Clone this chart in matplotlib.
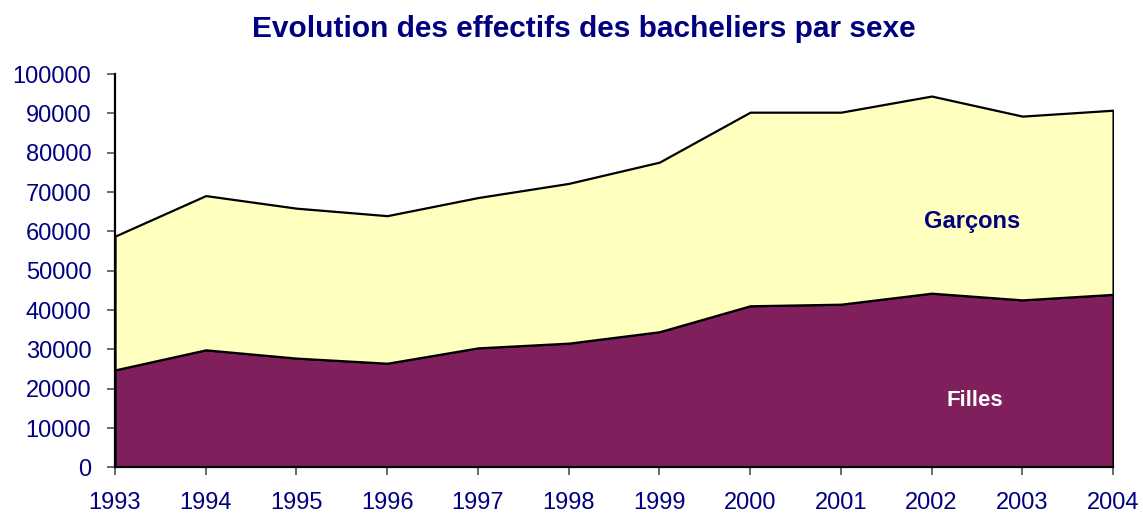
import numpy as np
import matplotlib.pyplot as plt

plt.rcParams['font.family'] = ['Liberation Sans', 'DejaVu Sans']

# Data
years = [1993, 1994, 1995, 1996, 1997, 1998, 1999, 2000, 2001, 2002, 2003, 2004]
filles = [24800, 29900, 27800, 26500, 30400, 31600, 34500, 41100, 41500, 44300, 42600, 44000]
garcons = [34000, 39200, 38100, 37500, 38200, 40600, 43100, 49200, 48800, 50100, 46700, 46800]

navy = '#000080'
col_filles = '#7F1F5C'
col_garcons = '#FFFFC0'

fig = plt.figure(figsize=(11.43, 5.14), dpi=100)
ax = fig.add_axes([0.1006, 0.0905, 0.8732, 0.7655])

ax.stackplot(years, filles, garcons, colors=[col_filles, col_garcons],
             edgecolor='black', linewidth=1.6)

ax.set_xlim(1993, 2004)
ax.set_ylim(0, 100000)
ax.set_xticks(years)
ax.set_yticks(np.arange(0, 100001, 10000))

for side in ['top', 'right']:
    ax.spines[side].set_visible(False)
for side in ['left', 'bottom']:
    ax.spines[side].set_color('black')
    ax.spines[side].set_linewidth(1.6)

ax.tick_params(axis='both', direction='out', length=6, width=1.2,
               color='#505050', labelsize=17, labelcolor=navy)
ax.tick_params(axis='x', pad=12)
ax.tick_params(axis='y', pad=11)

ax.text(2002.45, 62400, 'Garçons', color=navy, fontsize=17, fontweight='bold',
        ha='center', va='center')
ax.text(2002.48, 16900, 'Filles', color='white', fontsize=16, fontweight='bold',
        ha='center', va='center')

fig.text(0.511, 0.943, 'Evolution des effectifs des bacheliers par sexe',
         color=navy, fontsize=21.5, fontweight='bold', ha='center', va='center')

fig.savefig('out.png', dpi=100)
